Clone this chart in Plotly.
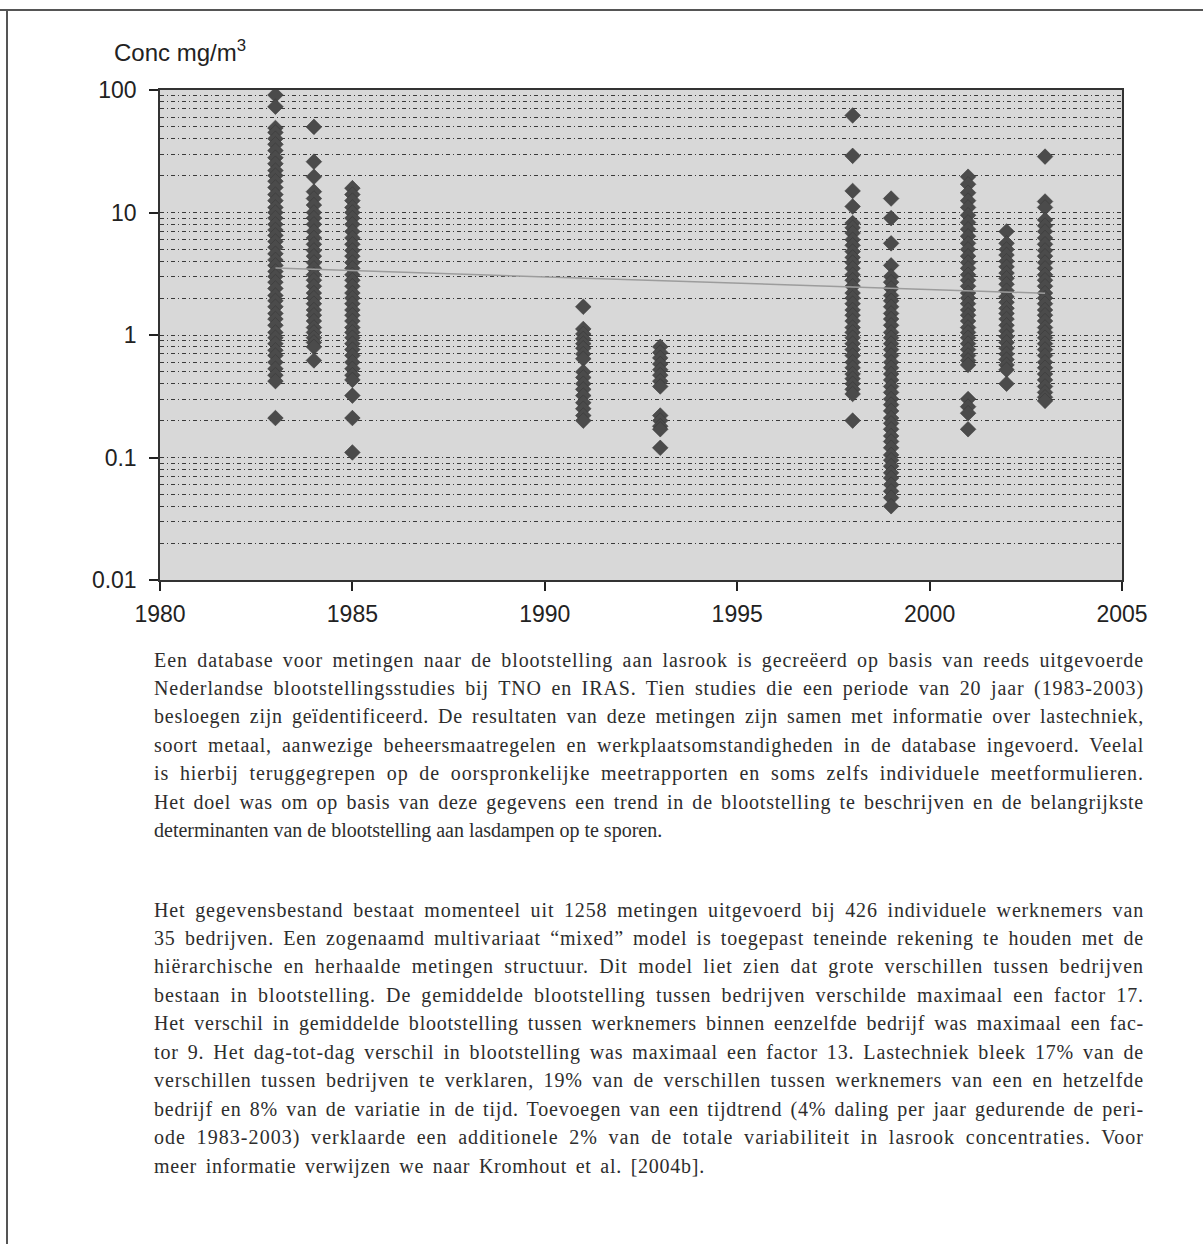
import json
import plotly.graph_objects as go

# ---------------- data ----------------
years = [1983, 1984, 1985, 1991, 1993, 1998, 1999, 2001, 2002, 2003]

conc_1983 = [91, 73, 49, 45, 40, 36, 32, 28, 25, 22, 20, 18, 16, 14, 12.5, 11, 10, 9, 8, 7.2,
             6.5, 5.8, 5.2, 4.6, 4.1, 3.7, 3.3, 3.0, 2.7, 2.4, 2.1, 1.9, 1.7, 1.5, 1.35, 1.2,
             1.05, 0.95, 0.85, 0.75, 0.68, 0.6, 0.53, 0.47, 0.42, 0.21]
conc_1984 = [50, 26, 19.6, 14.8, 13, 11.5, 10, 9, 8, 7, 6.2, 5.5, 4.9, 4.4, 3.9, 3.5, 3.1, 2.8,
             2.5, 2.2, 2.0, 1.8, 1.6, 1.45, 1.3, 1.15, 1.05, 0.95, 0.87, 0.8, 0.62]
conc_1985 = [15.8, 14, 12.5, 11, 10, 9, 8, 7, 6.2, 5.5, 4.9, 4.4, 3.9, 3.5, 3.1, 2.8, 2.5, 2.2,
             2.0, 1.8, 1.6, 1.45, 1.3, 1.15, 1.05, 0.95, 0.85, 0.76, 0.68, 0.6, 0.53, 0.47,
             0.43, 0.32, 0.21, 0.11]
conc_1991 = [1.7, 1.12, 1.02, 0.93, 0.85, 0.78, 0.7, 0.64, 0.5, 0.45, 0.4, 0.36, 0.32, 0.28,
             0.25, 0.22, 0.2]
conc_1993 = [0.8, 0.72, 0.65, 0.58, 0.52, 0.47, 0.42, 0.38, 0.22, 0.2, 0.18, 0.17, 0.12]
conc_1998 = [62, 29, 15, 11.2, 8.2, 7.5, 6.8, 6, 5.4, 4.8, 4.3, 3.9, 3.5, 3.1, 2.8, 2.5, 2.2,
             2.0, 1.8, 1.6, 1.45, 1.3, 1.15, 1.05, 0.95, 0.85, 0.76, 0.68, 0.6, 0.54, 0.48,
             0.44, 0.4, 0.36, 0.33, 0.2]
conc_1999 = [13, 9, 5.6, 3.7, 3.0, 2.7, 2.4, 2.1, 1.9, 1.7, 1.5, 1.35, 1.2, 1.05, 0.95, 0.85,
             0.76, 0.68, 0.6, 0.54, 0.48, 0.43, 0.38, 0.34, 0.3, 0.27, 0.24, 0.21, 0.19, 0.17,
             0.15, 0.135, 0.12, 0.105, 0.095, 0.085, 0.075, 0.068, 0.06, 0.053, 0.047, 0.04]
conc_2001 = [19.6, 17, 14.5, 12.5, 11, 9.5, 8.3, 7.3, 6.4, 5.6, 5, 4.4, 3.9, 3.5, 3.1, 2.8,
             2.5, 2.2, 2.0, 1.8, 1.6, 1.45, 1.3, 1.15, 1.05, 0.95, 0.85, 0.76, 0.68, 0.62,
             0.57, 0.3, 0.26, 0.23, 0.17]
conc_2002 = [7, 5.6, 5, 4.5, 4, 3.6, 3.2, 2.9, 2.6, 2.3, 2.05, 1.85, 1.65, 1.5, 1.35, 1.2,
             1.08, 0.97, 0.87, 0.78, 0.7, 0.63, 0.57, 0.52, 0.4]
conc_2003 = [28.6, 12.3, 11, 8.7, 7.8, 7, 6.2, 5.5, 4.9, 4.4, 3.9, 3.5, 3.1, 2.8, 2.5, 2.2,
             2.0, 1.8, 1.6, 1.45, 1.3, 1.15, 1.05, 0.95, 0.85, 0.76, 0.68, 0.6, 0.54, 0.48,
             0.43, 0.38, 0.34, 0.31, 0.29]

conc_by_year = [conc_1983, conc_1984, conc_1985, conc_1991, conc_1993,
                conc_1998, conc_1999, conc_2001, conc_2002, conc_2003]

trend_years = [1983, 2003]
trend_conc = [3.52, 2.19]

x_ticks = [1980, 1985, 1990, 1995, 2000, 2005]
y_ticks = [0.01, 0.1, 1, 10, 100]
y_tick_labels = ["0.01", "0.1", "1", "10", "100"]
y_minor = [k * d for d in [0.01, 0.1, 1, 10] for k in range(2, 10)] + [0.1, 1, 10]

title_text = "Conc mg/m<sup>3</sup>"

para1 = [
    "Een database voor metingen naar de blootstelling aan lasrook is gecreëerd op basis van reeds uitgevoerde",
    "Nederlandse blootstellingsstudies bij TNO en IRAS. Tien studies die een periode van 20 jaar (1983-2003)",
    "besloegen zijn geïdentificeerd. De resultaten van deze metingen zijn samen met informatie over lastechniek,",
    "soort metaal, aanwezige beheersmaatregelen en werkplaatsomstandigheden in de database ingevoerd. Veelal",
    "is hierbij teruggegrepen op de oorspronkelijke meetrapporten en soms zelfs individuele meetformulieren.",
    "Het doel was om op basis van deze gegevens een trend in de blootstelling te beschrijven en de belangrijkste",
    "determinanten van de blootstelling aan lasdampen op te sporen.",
]
para2 = [
    "Het gegevensbestand bestaat momenteel uit 1258 metingen uitgevoerd bij 426 individuele werknemers van",
    "35 bedrijven. Een zogenaamd multivariaat “mixed” model is toegepast teneinde rekening te houden met de",
    "hiërarchische en herhaalde metingen structuur. Dit model liet zien dat grote verschillen tussen bedrijven",
    "bestaan in blootstelling. De gemiddelde blootstelling tussen bedrijven verschilde maximaal een factor 17.",
    "Het verschil in gemiddelde blootstelling tussen werknemers binnen eenzelfde bedrijf was maximaal een fac-",
    "tor 9. Het dag-tot-dag verschil in blootstelling was maximaal een factor 13. Lastechniek bleek 17% van de",
    "verschillen tussen bedrijven te verklaren, 19% van de verschillen tussen werknemers van een en hetzelfde",
    "bedrijf en 8% van de variatie in de tijd. Toevoegen van een tijdtrend (4% daling per jaar gedurende de peri-",
    "ode 1983-2003) verklaarde een additionele 2% van de totale variabiliteit in lasrook concentraties. Voor",
    "meer informatie verwijzen we naar Kromhout et al. [2004b].",
]

# ---------------- layout geometry (pixels) ----------------
W, H = 1203, 1244
L, R, T, B = 160, 1122, 90, 580
TEXT_L, TEXT_R = 152, 1142


def px_x(px):
    return (px - L) / (R - L)


def px_y(py):
    return (B - py) / (B - T)


# ---------------- figure ----------------
xs, ys = [], []
for yr, vals in zip(years, conc_by_year):
    xs += [yr] * len(vals)
    ys += vals

fig = go.Figure()
fig.add_trace(go.Scatter(
    x=xs, y=ys, mode="markers",
    marker=dict(symbol="diamond", size=12, color="#4b4b4b",
                line=dict(width=0.6, color="#3a3a3a")),
    showlegend=False, hoverinfo="x+y",
))
fig.add_trace(go.Scatter(
    x=trend_years, y=trend_conc, mode="lines",
    line=dict(color="#9c9c9c", width=1.5),
    showlegend=False, hoverinfo="skip",
))

grid_style = dict(gridcolor="#3a3a3a", gridwidth=1, griddash="4px,3px,1px,3px")

fig.update_layout(
    width=W, height=H,
    margin=dict(l=L, r=W - R, t=T, b=H - B, pad=0),
    paper_bgcolor="white",
    plot_bgcolor="#d8d8d8",
    font=dict(family="Liberation Sans, Arial, sans-serif", size=20, color="#222"),
    xaxis=dict(
        range=[1980, 2005], tickmode="array", tickvals=x_ticks,
        ticks="outside", ticklen=9, tickwidth=1.5, tickcolor="#222",
        showgrid=False, zeroline=False,
        showline=True, linecolor="#333", linewidth=1.5, mirror=True,
        tickfont=dict(size=23, color="#222"), ticklabelstandoff=4,
    ),
    yaxis=dict(
        type="log", range=[-2, 2], tickmode="array",
        tickvals=y_ticks, ticktext=y_tick_labels,
        ticks="outside", ticklen=9, tickwidth=1.5, tickcolor="#222",
        showgrid=False, zeroline=False,
        showline=True, linecolor="#333", linewidth=1.5, mirror=True,
        tickfont=dict(size=23, color="#222"), ticklabelstandoff=8,
        minor=dict(tickmode="array", tickvals=y_minor, ticks="",
                   showgrid=True, **grid_style),
    ),
)

annotations = [dict(
    text=title_text, x=px_x(112), y=px_y(51), xref="paper", yref="paper",
    xanchor="left", yanchor="middle", showarrow=False,
    font=dict(family="Liberation Sans, Arial, sans-serif", size=24, color="#222"),
)]

body_font = dict(family="Liberation Serif, Times New Roman, serif", size=20, color="#2d2d2d")
line_h = 28.45
for i, line in enumerate(para1):
    annotations.append(dict(text=line, x=px_x(TEXT_L), y=px_y(660 + i * line_h),
                            xref="paper", yref="paper", xanchor="left", yanchor="middle",
                            align="left", showarrow=False, font=body_font))
for i, line in enumerate(para2):
    annotations.append(dict(text=line, x=px_x(TEXT_L), y=px_y(910 + i * line_h),
                            xref="paper", yref="paper", xanchor="left", yanchor="middle",
                            align="left", showarrow=False, font=body_font))
fig.update_layout(annotations=annotations)

# page frame (scan border)
fig.add_shape(type="line", xref="paper", yref="paper",
              x0=px_x(0), x1=px_x(W), y0=px_y(10), y1=px_y(10),
              line=dict(color="#555", width=2))
fig.add_shape(type="line", xref="paper", yref="paper",
              x0=px_x(7), x1=px_x(7), y0=px_y(10), y1=px_y(H),
              line=dict(color="#555", width=2))

# target widths for justified lines (full text column), last lines set separately
targets = {s: TEXT_R - TEXT_L for s in para1[:-1] + para2[:-1]}
targets[para2[-1]] = 703 - TEXT_L

post = """
document.body.style.margin = '0';
document.body.style.overflow = 'hidden';
var gd = document.getElementById('{plot_id}');
var T = %s;
gd.querySelectorAll('text.annotation-text').forEach(function(t){
  var s = t.textContent;
  if (!(s in T)) return;
  t.style.letterSpacing = '0px';
  t.style.wordSpacing = '0px';
  var w = t.getComputedTextLength();
  var extra = T[s] - w;
  var nc = s.length;
  var ns = (s.match(/ /g) || []).length;
  t.style.letterSpacing = (extra * 0.65 / nc) + 'px';
  if (ns > 0) t.style.wordSpacing = (extra * 0.35 / ns) + 'px';
});
""" % json.dumps(targets, ensure_ascii=False)

fig.write_html("out.html", post_script=post, config={"displayModeBar": False})
